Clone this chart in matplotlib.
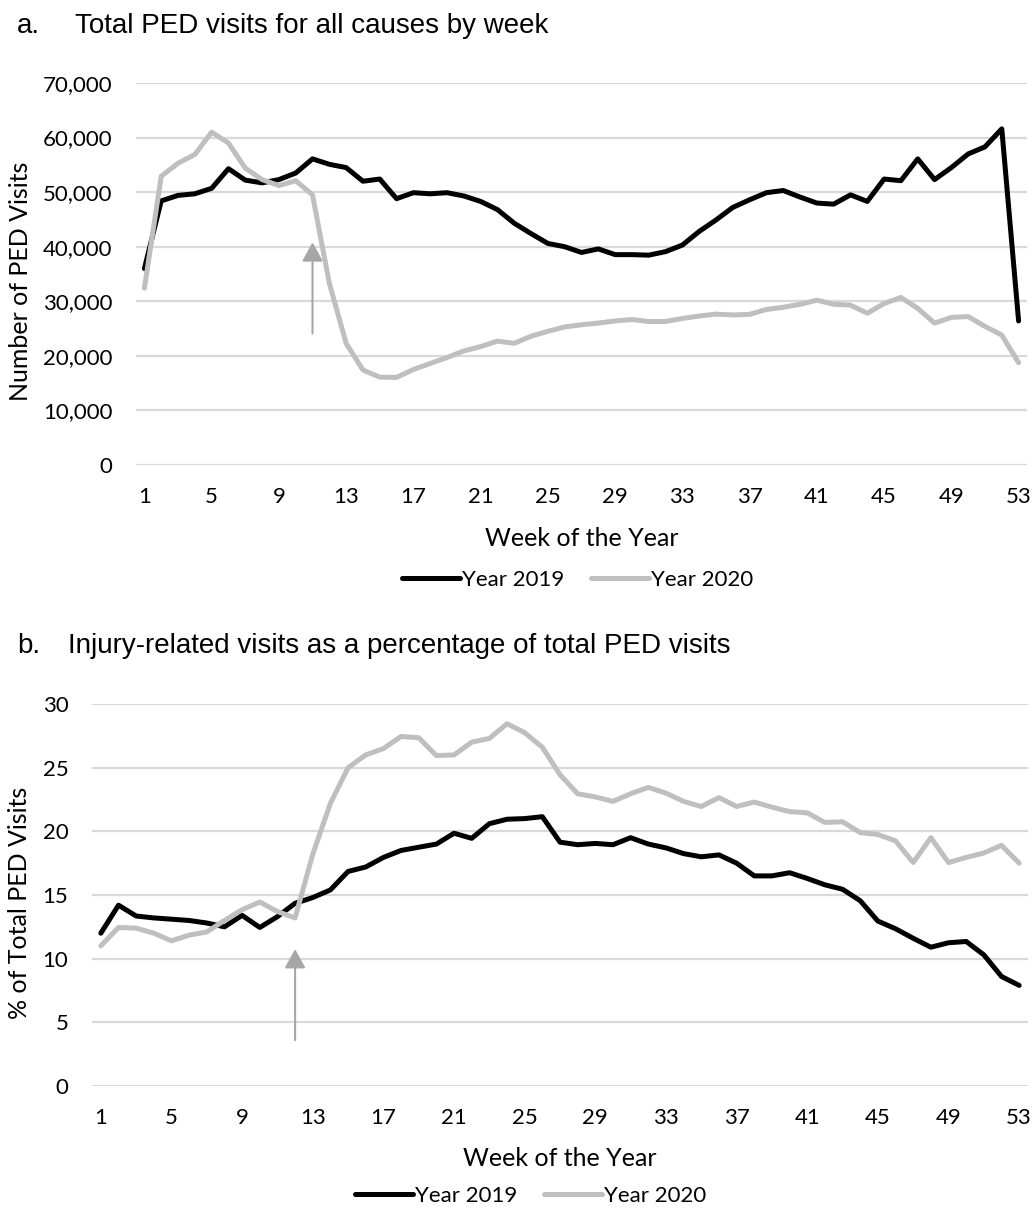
import matplotlib
matplotlib.use("Agg")
import matplotlib.pyplot as plt
from matplotlib.ticker import FuncFormatter

weeks = list(range(1, 54))

visits_2019 = [36000, 48400, 49400, 49700, 50700, 54300, 52200, 51700, 52300, 53500,
               56100, 55100, 54500, 52000, 52400, 48800, 49900, 49700, 49900, 49300,
               48300, 46800, 44300, 42400, 40600, 40000, 38950, 39600, 38550, 38550,
               38450, 39100, 40300, 42800, 44900, 47200, 48600, 49900, 50300, 49100,
               48000, 47800, 49500, 48300, 52400, 52100, 56100, 52300, 54500, 57000,
               58300, 61600, 26400]
visits_2020 = [32400, 52900, 55300, 56900, 61000, 59000, 54400, 52300, 51200, 52100,
               49500, 33300, 22300, 17400, 16100, 16050, 17500, 18600, 19700, 20900,
               21700, 22700, 22300, 23600, 24500, 25300, 25700, 26000, 26400, 26650,
               26300, 26300, 26850, 27300, 27650, 27500, 27600, 28500, 28900, 29450,
               30200, 29450, 29300, 27800, 29600, 30700, 28700, 26000, 27050, 27200,
               25400, 23800, 18750]

pct_2019 = [12.0, 14.2, 13.35, 13.2, 13.1, 13.0, 12.8, 12.5, 13.4, 12.45,
            13.3, 14.35, 14.8, 15.4, 16.85, 17.2, 17.95, 18.5, 18.75, 19.0,
            19.85, 19.45, 20.6, 20.95, 21.0, 21.15, 19.15, 18.95, 19.05, 18.95,
            19.5, 19.0, 18.7, 18.25, 18.0, 18.15, 17.5, 16.5, 16.5, 16.75,
            16.3, 15.8, 15.45, 14.55, 12.95, 12.35, 11.6, 10.9, 11.25, 11.35,
            10.3, 8.6, 7.9]
pct_2020 = [11.0, 12.45, 12.4, 12.0, 11.4, 11.85, 12.1, 13.0, 13.85, 14.45,
            13.7, 13.2, 18.2, 22.2, 25.0, 26.0, 26.5, 27.45, 27.35, 25.95,
            26.0, 27.0, 27.3, 28.45, 27.75, 26.6, 24.45, 22.95, 22.7, 22.35,
            22.95, 23.45, 23.0, 22.35, 21.95, 22.65, 21.95, 22.3, 21.9, 21.55,
            21.45, 20.7, 20.75, 19.9, 19.75, 19.25, 17.55, 19.5, 17.55, 17.95,
            18.3, 18.9, 17.5]

xtick_weeks = list(range(1, 54, 4))
yticks_a = list(range(0, 70001, 10000))
yticks_b = list(range(0, 31, 5))
series_labels = ["Year 2019", "Year 2020"]

# arrows (annotation: week, tail value, head value)
arrow_a = (11, 24100, 40800)
arrow_b = (12, 3.6, 10.75)

C19 = "#000000"
C20 = "#bfbfbf"
GRID = "#d9d9d9"
ARROW = "#a6a6a6"

W, H = 1033, 1209
fig = plt.figure(figsize=(W / 100, H / 100), dpi=100)

TICKFONT = "Lato"
TITLEFONT = "Liberation Sans"


def make_panel(rect, y19, y20, yticks, ymax, fmt, arrow, ylabel, ylab_x):
    ax = fig.add_axes(rect)
    ax.plot(weeks, y19, color=C19, lw=3.6, solid_joinstyle="round",
            solid_capstyle="round", label=series_labels[0], zorder=3)
    ax.plot(weeks, y20, color=C20, lw=3.6, solid_joinstyle="round",
            solid_capstyle="round", label=series_labels[1], zorder=3)
    ax.set_xlim(0.5, 53.5)
    ax.set_ylim(0, ymax)
    ax.set_yticks(yticks)
    ax.set_xticks(xtick_weeks)
    ax.yaxis.set_major_formatter(FuncFormatter(fmt))
    ax.grid(axis="y", color=GRID, lw=1.6, zorder=0)
    ax.set_axisbelow(True)
    for s in ax.spines.values():
        s.set_visible(False)
    ax.tick_params(axis="both", length=0, labelsize=16, colors="#000000")
    ax.tick_params(axis="y", pad=17)
    ax.tick_params(axis="x", pad=16)
    for lab in ax.get_xticklabels() + ax.get_yticklabels():
        lab.set_fontfamily(TICKFONT)
    wk, y0, y1 = arrow
    ax.annotate("", xy=(wk, y1), xytext=(wk, y0),
                arrowprops=dict(arrowstyle="-|>,head_length=0.4,head_width=0.22",
                                color=ARROW, lw=1.5, mutation_scale=29,
                                shrinkA=0, shrinkB=0), zorder=4)
    ax.set_ylabel(ylabel, fontsize=18, fontfamily=TICKFONT, va="center")
    ax.yaxis.set_label_coords(ylab_x, 0.48)
    return ax


# Panel a
la, ra, ta, ba = 136, 1027, 83, 465
ax1 = make_panel([la / W, 1 - ba / H, (ra - la) / W, (ba - ta) / H],
                 visits_2019, visits_2020, yticks_a, 70000,
                 lambda v, p: f"{int(v):,}", arrow_a,
                 "Number of PED Visits", (20 - la) / (ra - la))

# Panel b
lb, rb, tb, bb = 92, 1028, 704, 1086
ax2 = make_panel([lb / W, 1 - bb / H, (rb - lb) / W, (bb - tb) / H],
                 pct_2019, pct_2020, yticks_b, 30,
                 lambda v, p: f"{int(v)}", arrow_b,
                 "% of Total PED Visits", (20 - lb) / (rb - lb))

# Titles
fig.text(17 / W, 1 - 26 / H, "a.", fontsize=20, fontfamily=TITLEFONT, va="center", ha="left")
fig.text(75 / W, 1 - 26 / H, "Total PED visits for all causes by week", fontsize=20,
         fontfamily=TITLEFONT, va="center", ha="left")
fig.text(17 / W, 1 - 646 / H, "b.", fontsize=20, fontfamily=TITLEFONT, va="center", ha="left")
fig.text(68 / W, 1 - 646 / H, "Injury-related visits as a percentage of total PED visits",
         fontsize=20, fontfamily=TITLEFONT, va="center", ha="left")

# X labels
fig.text(582 / W, 1 - 538 / H, "Week of the Year", fontsize=18, fontfamily=TICKFONT,
         ha="center", va="center")
fig.text(560 / W, 1 - 1159 / H, "Week of the Year", fontsize=18, fontfamily=TICKFONT,
         ha="center", va="center")

# Legends
for ax, cx, cy in [(ax1, 578, 580), (ax2, 531, 1196)]:
    ax.legend(loc="center", bbox_to_anchor=(cx / W, 1 - cy / H),
              bbox_transform=fig.transFigure, ncol=2, frameon=False,
              prop={"family": TICKFONT, "size": 16}, handlelength=2.6,
              handletextpad=0.1, columnspacing=1.2, borderpad=0)

fig.savefig("out.png", dpi=100)
